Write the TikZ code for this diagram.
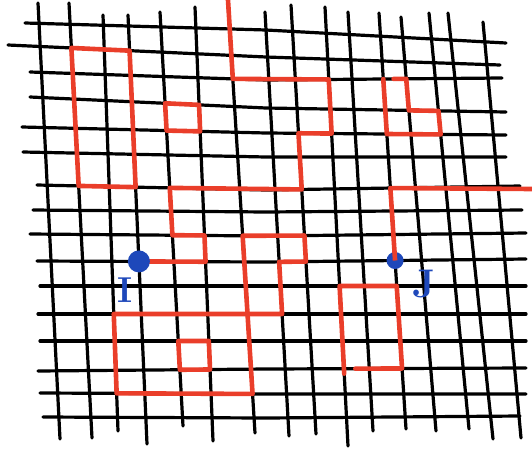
\documentclass[tikz,border=0pt]{standalone}
\usetikzlibrary{calc}
\definecolor{redpen}{RGB}{234,62,42}
\definecolor{bluepen}{RGB}{30,72,186}
\begin{document}
\begin{tikzpicture}[x=1pt,y=-1pt,
  gridline/.style={line width=3.2pt, black, line cap=round, line join=round},
  loop/.style={line width=4.6pt, draw=redpen, line cap=round, line join=round},
  dotmark/.style={fill=bluepen},
  letter/.style={text=bluepen, inner sep=0pt, font=\bfseries\fontsize{36}{36}\selectfont}]
\useasboundingbox (0,0) rectangle (532,453);
% vertical lines: index / top x / top y / bottom x / bottom y
\foreach \i/\xt/\yt/\xb/\yb in {0/38/3/60/439, 1/69/3/92/438, 2/103/15/118/431, 3/128/15/147/444,
  4/160/12/183/426, 5/195/7/213/441, 6/228/2/255/433, 7/265/12/289/436, 8/291/5/316/434,
  9/325/7/348/446, 10/348/12/373/431, 11/379/13/406/429, 12/401/17/436/431, 13/429/13/469/429,
  14/448/13/493/439, 15/483/22/521/438}{
  \coordinate (vt\i) at (\xt,\yt);
  \coordinate (vb\i) at (\xb,\yb);
  \draw[gridline] (vt\i) -- (vb\i);
}
% horizontal lines: index / left x / left y / middle y (at x=266) / right x / right y
\foreach \j/\xl/\yl/\ym/\xr/\yr in {0/25/23/30/506/43, 1/8/45/57/500/65, 2/30/72/80/502/78,
  3/30/97/108/506/112, 4/22/127/133/506/135, 5/23/152/157/506/157, 6/37/185/190/520/186,
  7/33/210/212/522/210, 8/30/234/236/526/233, 9/37/261/262/526/259, 10/40/286/286/526/286,
  11/38/314/314/526/314, 12/40/341/341/526/341, 13/38/371/369/526/368, 14/40/393/394/526/394,
  15/43/417/418/520/416}{
  \coordinate (hl\j) at (\xl,\yl);
  \coordinate (hm\j) at (266,\ym);
  \coordinate (hr\j) at (\xr,\yr);
  \draw[gridline] (hl\j) -- (hm\j) -- (hr\j);
}
% grid crossings
\foreach \i in {0,...,15}{
  \foreach \j in {0,...,15}{
    \ifnum\i<7
      \pgfcoordinate{p\i-\j}{\pgfpointintersectionoflines
        {\pgfpointanchor{vt\i}{center}}{\pgfpointanchor{vb\i}{center}}
        {\pgfpointanchor{hl\j}{center}}{\pgfpointanchor{hm\j}{center}}}
    \else
      \pgfcoordinate{p\i-\j}{\pgfpointintersectionoflines
        {\pgfpointanchor{vt\i}{center}}{\pgfpointanchor{vb\i}{center}}
        {\pgfpointanchor{hm\j}{center}}{\pgfpointanchor{hr\j}{center}}}
    \fi
  }
}
% red loops
\draw[loop] (p1-1) -- (p3-1) -- (p3-6) -- (p1-6) -- cycle;
\draw[loop] (p4-3) -- (p5-3) -- (p5-4) -- (p4-4) -- cycle;
\coordinate (ctop) at (228,0);
\draw[loop] (ctop) -- (p6-2) -- (p9-2) -- (p9-4) -- (p8-4) -- (p8-6) -- (p4-6) -- (p4-8) -- (p5-8) -- (p5-9) -- (p3-9);
\draw[loop] ($(p12-2)!0.55!(p11-2)$) -- (p12-2) -- (p12-3) -- (p13-3) -- (p13-4) -- (p11-4) -- (p11-2);
\draw[loop] (p6-8) -- (p8-8) -- (p8-9) -- (p7-9) -- (p7-11) -- (p6-11) -- cycle;
\draw[loop] (p2-11) -- (p6-11) -- (p6-14) -- (p2-14) -- cycle;
\draw[loop] (p4-12) -- (p5-12) -- (p5-13) -- (p4-13) -- cycle;
\draw[loop] ($(p9-10)!1.06!(p9-13)$) -- (p9-10) -- (p11-10) -- (p11-13) -- ($(p9-13)!0.45!(p10-13)$);
% blue points and labels
\fill[dotmark] (p3-9) circle (11);
\node[letter] (labI) at (125,290) {I};
\coordinate (eright) at (532,189);
\draw[loop] (eright) -- (p11-6) -- (p11-9);
\fill[dotmark] (p11-9) circle (8.5);
\draw[loop, line cap=butt] ($(p11-9)!8.5pt!(p11-6)$) -- (p11-9);
\node[letter, font=\bfseries\fontsize{40}{40}\selectfont] (labJ) at (424,284) {J};
\end{tikzpicture}
\end{document}
